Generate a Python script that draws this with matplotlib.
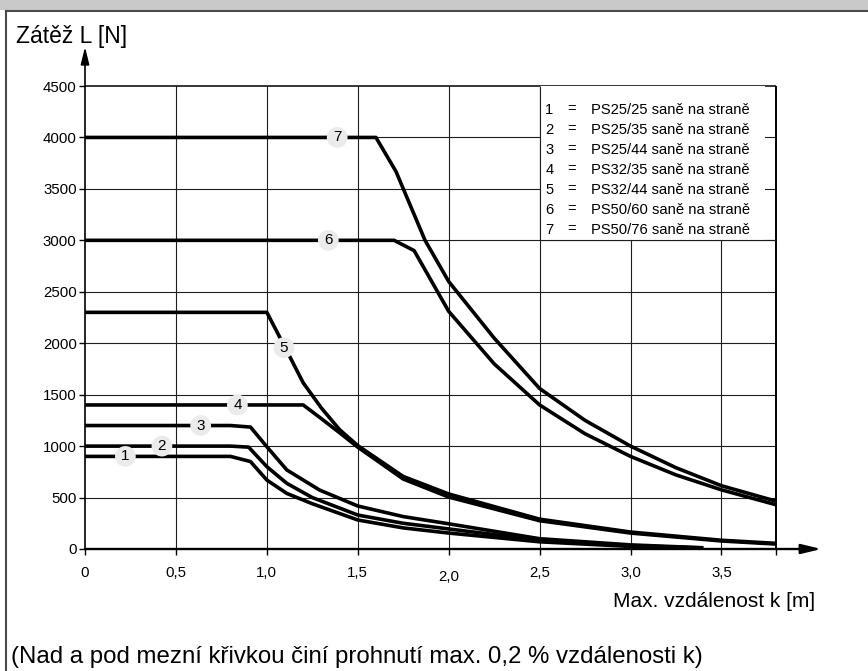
import matplotlib
matplotlib.use("Agg")
import matplotlib.pyplot as plt
from matplotlib.patches import Rectangle
from matplotlib.lines import Line2D

plt.rcParams['font.family'] = ['Liberation Sans', 'DejaVu Sans']

# ---------------- data ----------------
k1 = [0, 0.8, 0.91, 1.0, 1.11, 1.25, 1.5, 1.75, 2.0, 2.5, 3.0, 3.4]
L1 = [900, 900, 850, 670, 540, 440, 282, 205, 155, 70, 25, 8]

k2 = [0, 0.8, 0.9, 1.0, 1.11, 1.25, 1.5, 1.75, 2.0, 2.5, 3.0, 3.4]
L2 = [1000, 1000, 990, 800, 638, 500, 330, 250, 195, 85, 32, 10]

k3 = [0, 0.8, 0.91, 1.0, 1.11, 1.29, 1.5, 1.75, 2.0, 2.5, 3.0, 3.4]
L3 = [1200, 1200, 1185, 994, 768, 573, 418, 315, 245, 100, 40, 12]

k4 = [0, 1.2, 1.29, 1.4, 1.5, 1.75, 2.0, 2.5, 3.0, 3.5, 3.8]
L4 = [1400, 1400, 1280, 1130, 990, 680, 505, 275, 155, 78, 48]

k5 = [0, 1.0, 1.1, 1.2, 1.3, 1.4, 1.5, 1.75, 2.0, 2.5, 3.0, 3.5, 3.8]
L5 = [2300, 2300, 1960, 1615, 1370, 1160, 1005, 705, 535, 290, 165, 85, 55]

k6 = [0, 1.7, 1.81, 2.0, 2.25, 2.5, 2.75, 3.0, 3.25, 3.5, 3.8]
L6 = [3000, 3000, 2900, 2310, 1800, 1400, 1120, 900, 720, 575, 430]

k7 = [0, 1.6, 1.71, 1.87, 2.0, 2.25, 2.5, 2.75, 3.0, 3.25, 3.5, 3.8]
L7 = [4000, 4000, 3670, 3000, 2600, 2050, 1560, 1250, 1000, 790, 615, 465]

curves_k = [k1, k2, k3, k4, k5, k6, k7]
curves_L = [L1, L2, L3, L4, L5, L6, L7]

label_nums = ["1", "2", "3", "4", "5", "6", "7"]
label_k = [0.222, 0.423, 0.636, 0.838, 1.094, 1.338, 1.387]
label_L = [900, 1000, 1200, 1400, 1957, 3000, 4000]

legend_names = ["PS25/25 saně na straně", "PS25/35 saně na straně",
                "PS25/44 saně na straně", "PS32/35 saně na straně",
                "PS32/44 saně na straně", "PS50/60 saně na straně",
                "PS50/76 saně na straně"]

x_ticks = [0, 0.5, 1.0, 1.5, 2.0, 2.5, 3.0, 3.5]
x_tick_labels = ["0", "0,5", "1,0", "1,5", "2,0", "2,5", "3,0", "3,5"]
y_ticks = [0, 500, 1000, 1500, 2000, 2500, 3000, 3500, 4000, 4500]
y_tick_labels = [str(v) for v in y_ticks]

grid_k = [0.5, 1.0, 1.5, 2.0, 2.5, 3.0, 3.5]
grid_L = [500, 1000, 1500, 2000, 2500, 3000, 3500, 4000]
K_END = 3.8
L_END = 4500

title = "Zátěž L [N]"
xlabel = "Max. vzdálenost k [m]"
caption = "(Nad a pod mezní křivkou činí prohnutí max. 0,2 % vzdálenosti k)"

# ---------------- layout ----------------
W, H = 868, 671
fig = plt.figure(figsize=(W / 100, H / 100), dpi=100)

px_k = (776 - 85) / 3.8
px_L = (549 - 86) / 4500
xmax, ymax = 4.05, 4880
ax = fig.add_axes([85 / W, (H - 549) / H, xmax * px_k / W, ymax * px_L / H])
ax.set_xlim(0, xmax)
ax.set_ylim(0, ymax)
for s in ax.spines.values():
    s.set_visible(False)
ax.patch.set_alpha(0)

# grid
ax.vlines(grid_k, 0, L_END, color='#1e1e1e', lw=0.8, zorder=1)
ax.hlines(grid_L, 0, K_END, color='#1e1e1e', lw=0.8, zorder=1)
ax.vlines([K_END], 0, L_END, color='black', lw=1.4, zorder=1)
ax.hlines([L_END], 0, K_END, color='black', lw=1.1, zorder=1)

# legend box (white area over the grid)
lg_k0, lg_k1, lg_L0, lg_L1 = 2.5, 3.74, 3000, 4500
ax.add_patch(Rectangle((lg_k0, lg_L0), lg_k1 - lg_k0, lg_L1 - lg_L0,
                       fc='white', ec='none', zorder=1.5))
ax.vlines([lg_k0], lg_L0, lg_L1, color='#1e1e1e', lw=0.8, zorder=1.6)
ax.hlines([lg_L0], lg_k0, K_END, color='#1e1e1e', lw=0.8, zorder=1.6)

row0 = (549 - 113.5) / px_L
row_step = 20 / px_L
for i, (num, name) in enumerate(zip(label_nums, legend_names)):
    yb = row0 - i * row_step
    ax.text(2.554, yb, num, ha='center', va='baseline', fontsize=10.6, zorder=2)
    ax.text(2.676, yb, "=", ha='center', va='baseline', fontsize=10.6, zorder=2)
    ax.text(2.781, yb, name, ha='left', va='baseline', fontsize=10.6, zorder=2)

# curves
for kk, LL in zip(curves_k, curves_L):
    ax.plot(kk, LL, color='black', lw=2.6, solid_joinstyle='round',
            solid_capstyle='butt', zorder=3)

# curve labels
for num, kx, ly in zip(label_nums, label_k, label_L):
    ax.text(kx, ly, num, ha='center', va='center', fontsize=11, zorder=4,
            bbox=dict(boxstyle='circle,pad=0.22', fc='#ebebeb', ec='none'))

# axes arrows
ax.annotate('', xy=(xmax, 0), xytext=(0, 0), annotation_clip=False,
            arrowprops=dict(arrowstyle='-|>,head_length=0.75,head_width=0.18',
                            lw=1.7, color='black', shrinkA=0, shrinkB=0,
                            mutation_scale=16), zorder=5)
ax.annotate('', xy=(0, ymax), xytext=(0, 0), annotation_clip=False,
            arrowprops=dict(arrowstyle='-|>,head_length=0.65,head_width=0.16',
                            lw=1.2, color='black', shrinkA=0, shrinkB=0,
                            mutation_scale=16), zorder=5)

# ticks
ax.set_yticks(y_ticks)
ax.set_yticklabels(y_tick_labels)
ax.set_xticks(x_ticks + [K_END])
ax.set_xticklabels([])
ax.tick_params(axis='y', length=4, width=1.0, pad=2, labelsize=10.8, color='black')
ax.tick_params(axis='x', length=4.5, width=1.0, color='black')

for kx, lab in zip(x_ticks, x_tick_labels):
    dy = -20.5 if lab == "2,0" else -17
    ax.annotate(lab, xy=(kx, 0), xycoords=('data', 'axes fraction'),
                xytext=(0, dy), textcoords='offset points',
                ha='center', va='center', fontsize=10.8, annotation_clip=False)

# figure decorations
fig.patches.append(Rectangle((0, (H - 10) / H), 1, 10 / H, transform=fig.transFigure,
                             fc='#c9c9c9', ec='none', zorder=0))
fig.lines.append(Line2D([6 / W, 1], [(H - 10.5) / H] * 2, transform=fig.transFigure,
                        color='#4a4a4a', lw=1.5))
fig.lines.append(Line2D([6 / W] * 2, [0, (H - 10.5) / H], transform=fig.transFigure,
                        color='#4a4a4a', lw=1.5))

fig.text(16 / W, 1 - 43 / H, title, ha='left', va='baseline', fontsize=16.5)
fig.text(815 / W, 1 - 607 / H, xlabel, ha='right', va='baseline', fontsize=15)
fig.text(11 / W, 1 - 663 / H, caption, ha='left', va='baseline', fontsize=17.3)

fig.savefig("out.png", dpi=100)
